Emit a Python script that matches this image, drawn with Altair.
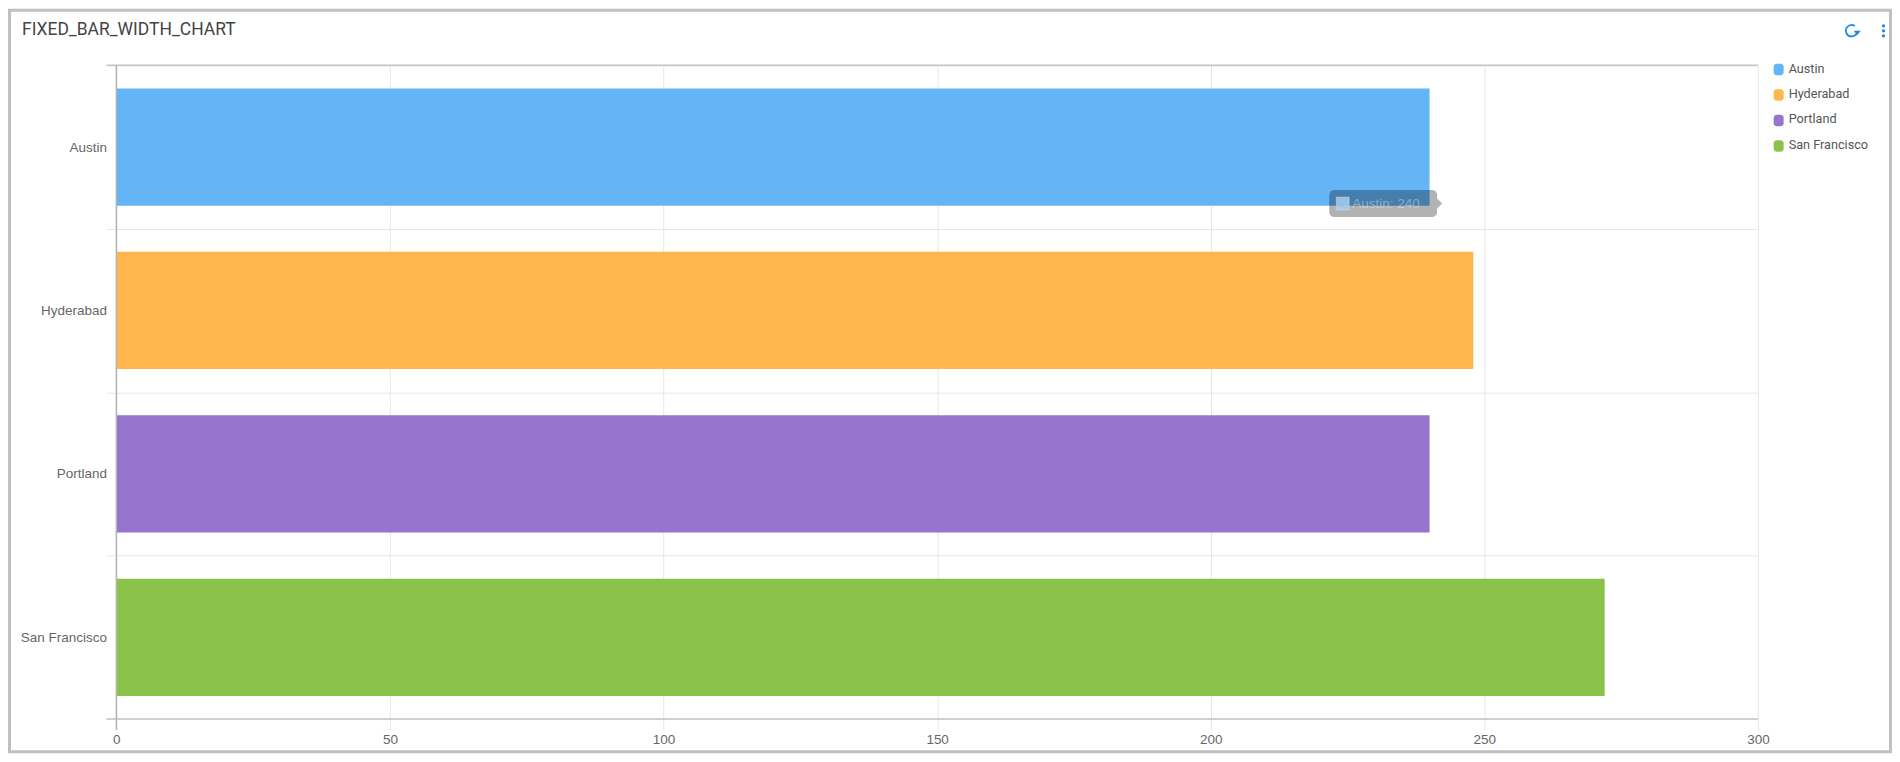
import altair as alt
import pandas as pd

categories = ["Austin", "Hyderabad", "Portland", "San Francisco"]
values = [240, 248, 240, 272]
colors = ["#64B5F6", "#FFB74D", "#9575CD", "#8BC34A"]
x_ticks = [0, 50, 100, 150, 200, 250, 300]
chart_title = "FIXED_BAR_WIDTH_CHART"
tooltip_text = "Austin: 240"

PW, PH = 1645, 655
PAD_L, PAD_T = 108.6, 56.7
TOTAL_W, TOTAL_H = 1888, 746
ICON_BLUE = "#1E88E5"
SX, SY = 1.0008, 1.0033

def px(x):
    return x * SX - (PAD_L + 8)

def py(y):
    return y * SY - (PAD_T + 8)

df = pd.DataFrame({"city": categories, "value": values})
one = df.head(1)

bars = alt.Chart(df).mark_bar(size=117.5).encode(
    x=alt.X("value:Q", scale=alt.Scale(domain=[0, 300], nice=False), title=None,
            axis=alt.Axis(values=x_ticks, grid=True, gridColor="#e6e6e6", domain=False,
                          tickColor="#e6e6e6", tickSize=11, labelColor="#666666",
                          labelFont="Liberation Sans", labelFontSize=13.5, labelPadding=3,
                          labelFlush=False)),
    y=alt.Y("city:N",
            scale=alt.Scale(type="band", domain=categories, paddingInner=0, paddingOuter=0),
            title=None,
            axis=alt.Axis(grid=True, gridColor="#e6e6e6", domain=False, tickBand="extent",
                          tickColor="#e6e6e6", tickSize=10, labelColor="#666666",
                          labelFont="Liberation Sans", labelFontSize=13.5, labelPadding=0)),
    color=alt.Color("city:N", scale=alt.Scale(domain=categories, range=colors), legend=None),
)

def rule(x, y, x2=None, y2=None, color="#c4c4c4", width=1.5):
    enc = dict(x=alt.value(x), y=alt.value(y))
    if x2 is not None:
        enc["x2"] = alt.value(x2)
    if y2 is not None:
        enc["y2"] = alt.value(y2)
    return alt.Chart(one).mark_rule(color=color, strokeWidth=width).encode(**enc)

top_line = rule(-10, 0, x2=PW)
bottom_line = rule(-10, PH, x2=PW)
y_line = rule(0, 0, y2=PH + 11, color="#b4b4b4")

frame = alt.Chart(one).mark_rect(fill="transparent", stroke="#c0c0c0", strokeWidth=3).encode(
    x=alt.value(-PAD_L + 1.5), x2=alt.value(TOTAL_W - PAD_L - 1.5),
    y=alt.value(-PAD_T + 1.5), y2=alt.value(TOTAL_H - PAD_T - 1.5),
)

title = alt.Chart(one).mark_text(
    align="left", baseline="middle", font="Roboto", fontSize=17.5, color="#444444"
).encode(x=alt.value(px(22)), y=alt.value(py(29)), text=alt.value(chart_title))

# legend
leg = pd.DataFrame({
    "city": categories,
    "sym_y": [py(v) for v in [68.5, 94, 119.5, 145]],
    "txt_y": [py(v) for v in [67.7, 93, 118.3, 144.5]],
})
legend_sym = alt.Chart(leg).mark_rect(width=10, height=11.5, cornerRadius=3).encode(
    x=alt.value(px(1781)),
    y=alt.Y("sym_y:Q", scale=None),
    color=alt.Color("city:N", scale=alt.Scale(domain=categories, range=colors), legend=None),
)
legend_txt = alt.Chart(leg).mark_text(
    align="left", baseline="middle", font="Roboto", fontSize=12.7, color="#555555"
).encode(x=alt.value(px(1791)), y=alt.Y("txt_y:Q", scale=None), text="city:N")

# faded tooltip
tip_box = alt.Chart(one).mark_rect(fill="#000000", opacity=0.3, cornerRadius=5).encode(
    x=alt.value(px(1331)), x2=alt.value(px(1439)),
    y=alt.value(py(189)), y2=alt.value(py(216)),
)
tip_arrow = alt.Chart(one).mark_point(
    shape="M0,-1L1,0L0,1Z", filled=True, fill="#000000", stroke=None, opacity=0.3, size=100
).encode(x=alt.value(px(1439)), y=alt.value(py(202.5)))
tip_swatch = alt.Chart(one).mark_rect(
    fill="#A9CBEA", fillOpacity=0.85, stroke="#FFFFFF", strokeOpacity=0.25, strokeWidth=1
).encode(
    x=alt.value(px(1338)), x2=alt.value(px(1351)),
    y=alt.value(py(196)), y2=alt.value(py(209)),
)
tip_text = alt.Chart(one).mark_text(
    align="left", baseline="middle", font="Liberation Sans", fontSize=13.5,
    color="#FFFFFF", opacity=0.35
).encode(x=alt.value(px(1354)), y=alt.value(py(202.5)), text=alt.value(tooltip_text))

# toolbar icons
refresh_arc = alt.Chart(one).mark_point(
    shape="M0.55,-0.8A0.95,0.95 0 1 0 0.95,0.1", filled=False, stroke=ICON_BLUE,
    strokeWidth=1.8, opacity=1, size=144
).encode(x=alt.value(px(1854)), y=alt.value(py(30)))
refresh_head = alt.Chart(one).mark_point(
    shape="M0.35,0L1.55,0L0.95,0.7Z", filled=True, fill=ICON_BLUE, stroke=None, opacity=1, size=144
).encode(x=alt.value(px(1854)), y=alt.value(py(30)))
menu_dots = alt.Chart(pd.DataFrame({"dot_y": [py(v) for v in [25, 30, 35]]})).mark_point(
    shape="circle", filled=True, fill=ICON_BLUE, stroke=None, opacity=1, size=11
).encode(x=alt.value(px(1886)), y=alt.Y("dot_y:Q", scale=None))

chart = alt.layer(
    bars, top_line, bottom_line, y_line, frame, title, legend_sym, legend_txt,
    tip_box, tip_arrow, tip_swatch, tip_text, refresh_arc, refresh_head, menu_dots
).resolve_scale(color="shared").properties(
    width=PW, height=PH,
    autosize=alt.AutoSizeParams(type="none"),
    padding={"left": PAD_L, "top": PAD_T, "right": TOTAL_W - PAD_L - PW, "bottom": TOTAL_H - PAD_T - PH},
).configure_view(stroke=None)

chart.save("out.html", embed_options={"renderer": "svg", "actions": False})
